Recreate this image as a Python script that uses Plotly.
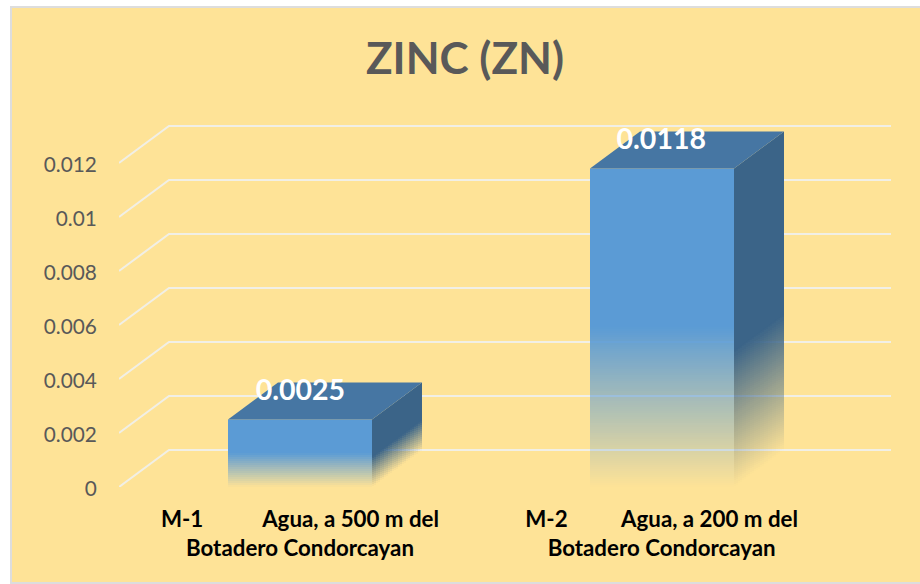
import plotly.graph_objects as go

categories = ["M-1", "M-2"]
descriptions = ["Agua, a 500 m del", "Agua, a 200 m del"]
place = "Botadero Condorcayan"
values = [0.0025, 0.0118]
value_labels = ["0.0025", "0.0118"]
tick_values = [0, 0.002, 0.004, 0.006, 0.008, 0.01, 0.012]
tick_labels = ["0", "0.002", "0.004", "0.006", "0.008", "0.01", "0.012"]

W, H = 920, 584
L, R, T, B = 119, 891, 100, 487
PX_PER_Y = 27000.0
PX_PER_X = 362.0
DEPTH_PX_X, DEPTH_PX_Y = 50, 37
DEPTH_X = DEPTH_PX_X / PX_PER_X
DEPTH_Y = DEPTH_PX_Y / PX_PER_Y
BAR_W = 144 / PX_PER_X
FRONT, TOP, SIDE = (91, 155, 213), (70, 118, 163), (59, 100, 136)
BG = "#FEE397"
GRID = "#F1EFE6"
FONT = "Lato"
STRIP_PX = 2
COL_PX = 2


def rgba(c, a):
    return f"rgba({c[0]},{c[1]},{c[2]},{a:.4f})"


fig = go.Figure()
xs = list(range(len(values)))
step = STRIP_PX / PX_PER_Y

for i, v in zip(xs, values):
    # front face: fading strips (whole pixels tall) under a solid upper part
    n = round(0.5 * v / step)
    solid = n * step
    bases = [k * step for k in range(n)] + [solid]
    heights = [step] * n + [v - solid]
    colors = [rgba(FRONT, (k + 0.5) / n) for k in range(n)] + [rgba(FRONT, 1)]
    fig.add_trace(go.Bar(x=[i] * (n + 1), y=heights, base=bases, width=BAR_W,
                         marker=dict(color=colors, line=dict(width=0)),
                         hoverinfo="skip", showlegend=False))
    # side face: narrow columns, each with its fading strips raised along the depth
    x0, x1 = i + BAR_W / 2, i + BAR_W / 2 + DEPTH_X
    ns = round(0.43 * v / step)
    side_solid = ns * step
    m = DEPTH_PX_X // COL_PX
    col_w = COL_PX / PX_PER_X
    col_x, col_h, col_b, col_c = [], [], [], []
    for j in range(m):
        lift = round(DEPTH_PX_Y * (j + 0.5) / m) / PX_PER_Y
        for k in range(ns + 2):
            col_x.append(x0 + (j + 0.5) * col_w)
            col_b.append(lift + k * step)
            col_h.append(step)
            col_c.append(rgba(SIDE, min(1, (k + 0.5) / ns)))
    fig.add_trace(go.Bar(x=col_x, y=col_h, base=col_b, width=col_w,
                         marker=dict(color=col_c, line=dict(width=0)),
                         hoverinfo="skip", showlegend=False))
    fig.add_trace(go.Scatter(
        x=[x0, x1, x1, x0, x0],
        y=[side_solid, side_solid + DEPTH_Y, v + DEPTH_Y, v, side_solid],
        mode="lines", line=dict(width=0), fill="toself",
        fillcolor=rgba(SIDE, 1), hoverinfo="skip", showlegend=False))
    # top face
    xl = i - BAR_W / 2
    fig.add_trace(go.Scatter(
        x=[xl, x0, x1, xl + DEPTH_X, xl],
        y=[v, v, v + DEPTH_Y, v + DEPTH_Y, v],
        mode="lines", line=dict(width=0), fill="toself",
        fillcolor=rgba(TOP, 1), hoverinfo="skip", showlegend=False))

fig.add_trace(go.Scatter(
    x=[0.001, 0.998], y=[v + 27 / PX_PER_Y for v in values],
    mode="text", text=value_labels, textposition="middle center",
    textfont=dict(family=FONT, size=28.5, color="white", weight="bold"),
    hoverinfo="skip", showlegend=False))

x_min = -0.5
x_max = x_min + (R - L) / PX_PER_X
y_max = (B - T) / PX_PER_Y

shapes = [dict(type="rect", xref="paper", yref="paper",
               x0=(11 - L) / (R - L), x1=(921 - L) / (R - L),
               y0=(B - 583) / (B - T), y1=(B - 7) / (B - T),
               fillcolor=BG, line=dict(color="#DDDDDD", width=2), layer="below")]
for t in tick_values:
    shapes.append(dict(type="path", xref="x", yref="y", layer="below",
                       path=f"M {x_min} {t} L {x_min + DEPTH_X} {t + DEPTH_Y} L {x_max} {t + DEPTH_Y}",
                       line=dict(color=GRID, width=2)))

gaps = ["\u00a0" * 11, "\u00a0" * 10]
fig.update_layout(
    width=W, height=H, barmode="overlay",
    margin=dict(l=L, r=W - R, t=T, b=H - B, pad=0, autoexpand=False),
    paper_bgcolor="white", plot_bgcolor="rgba(0,0,0,0)",
    shapes=shapes, showlegend=False, hovermode=False,
    title=dict(text="<b>ZINC (ZN)</b>", x=465 / W, y=1 - 59 / H, xanchor="center", yanchor="middle",
               xref="container", yref="container",
               font=dict(family=FONT, size=44, color="#595959")),
    xaxis=dict(range=[x_min, x_max], tickmode="array", tickvals=[0, 0.999],
               ticktext=[f"<b>{c}{g}{d}<br>{place}</b>" for c, g, d in zip(categories, gaps, descriptions)],
               tickfont=dict(family=FONT, size=22.3, color="black"), tickangle=0,
               showgrid=False, zeroline=False, showline=False, ticks="outside",
               ticklen=12, tickcolor="rgba(0,0,0,0)", automargin=False, fixedrange=True),
    yaxis=dict(range=[0, y_max], tickmode="array", tickvals=tick_values, ticktext=tick_labels,
               tickfont=dict(family=FONT, size=20.8, color="#595959"),
               showgrid=False, zeroline=False, showline=False, ticks="outside",
               ticklen=17, tickcolor="rgba(0,0,0,0)", ticklabelshift=2,
               automargin=False, fixedrange=True),
)

fig.write_html("out.html", config=dict(displayModeBar=False),
               post_script="document.body.style.margin='0';")
